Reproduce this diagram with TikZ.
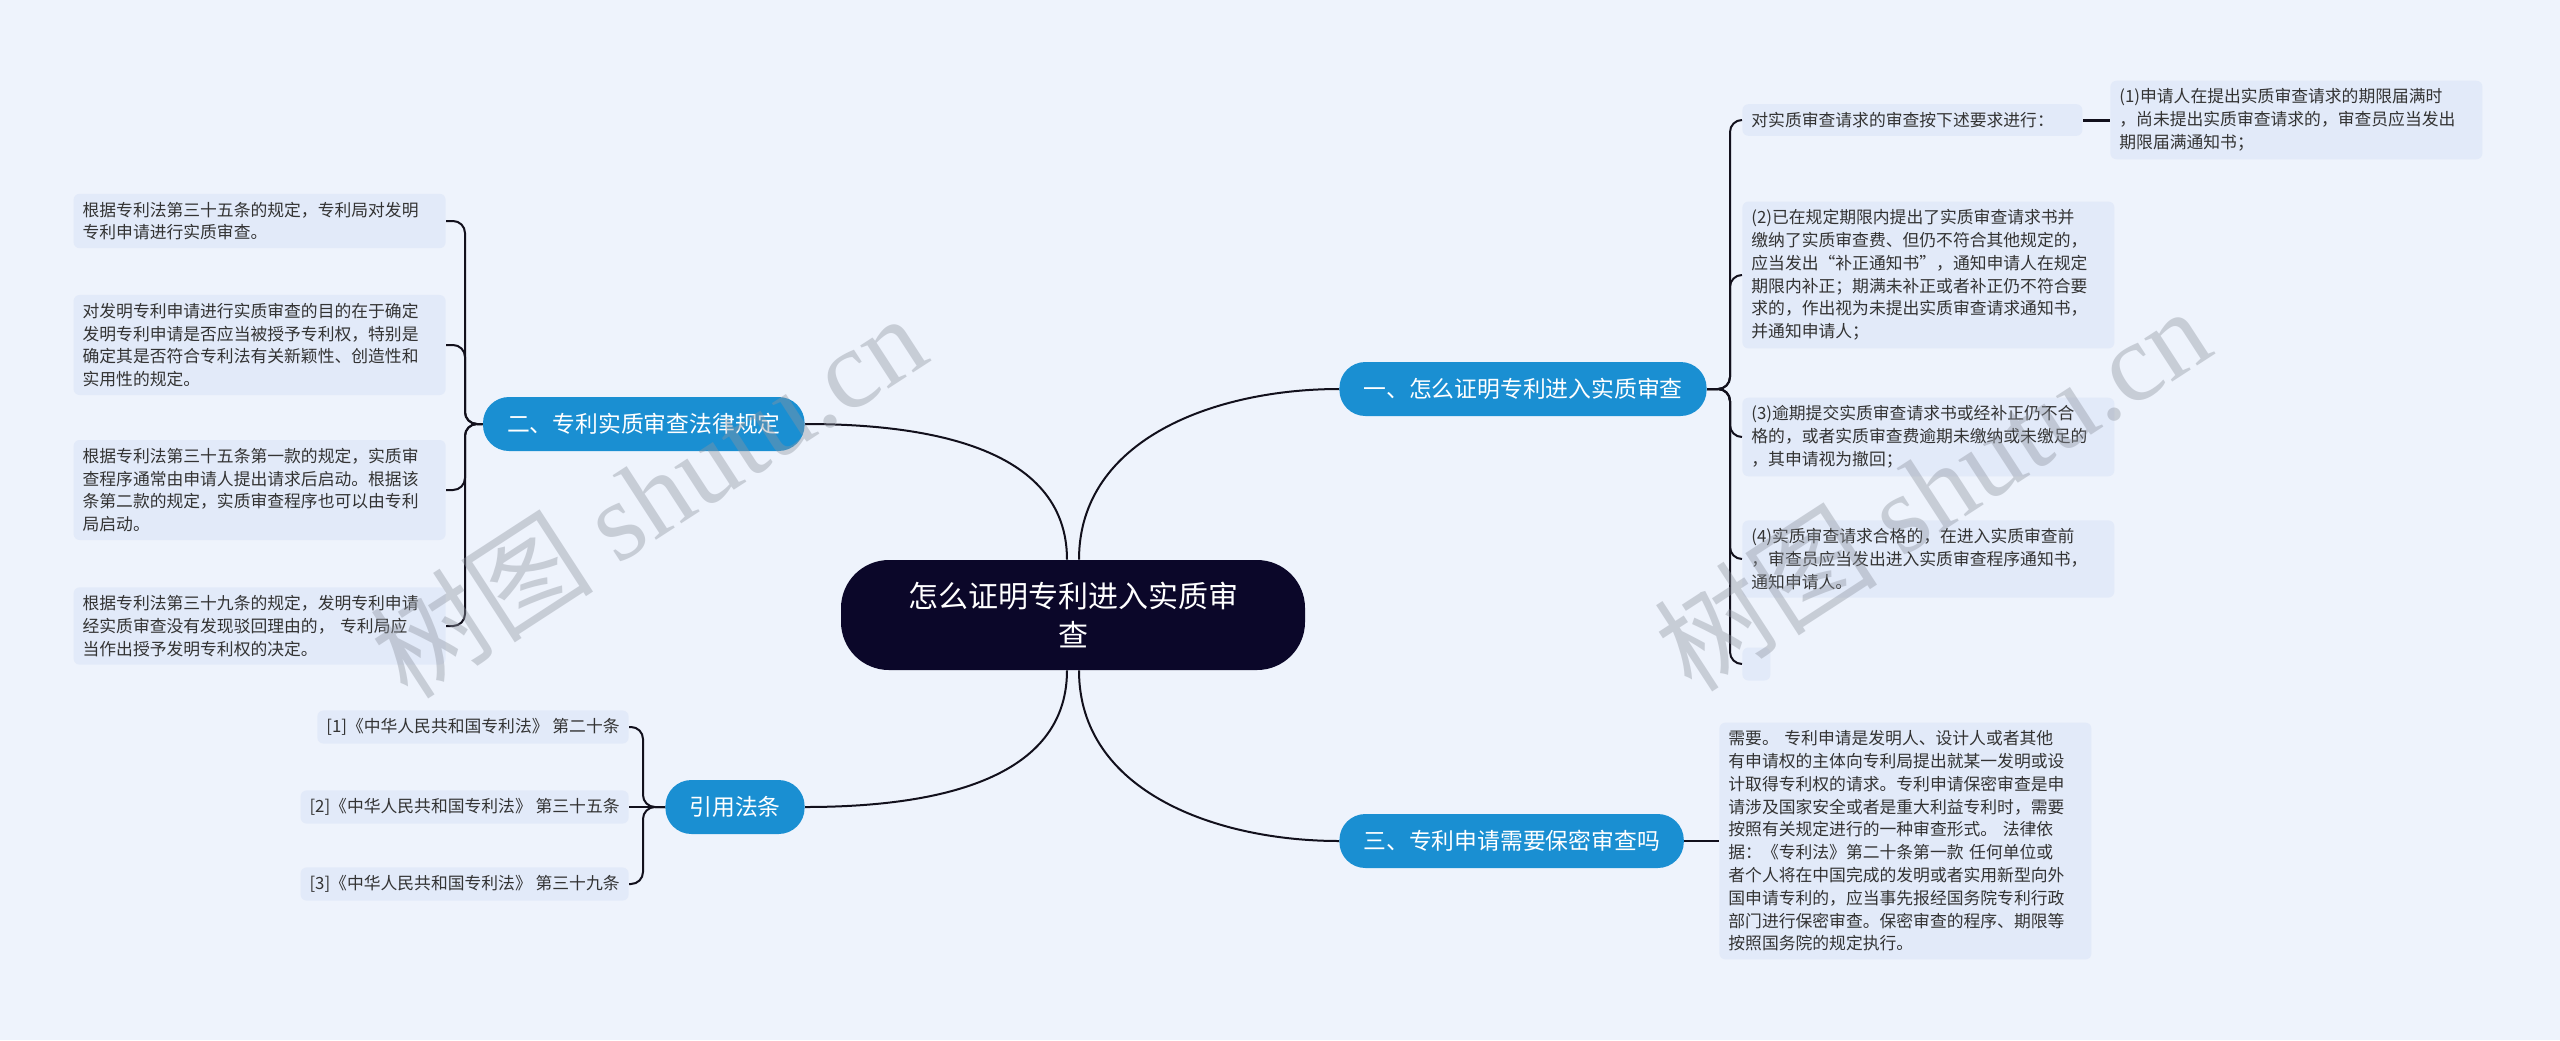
\documentclass[tikz,border=0pt]{standalone}
\usepackage{fontspec}
\setmainfont{Noto Sans CJK SC}
\newfontfamily\wmfont{Liberation Serif}
\usepackage{xcolor}
\usepackage{tikz}
\usetikzlibrary{positioning}
\definecolor{bgc}{HTML}{EEF3FC}
\definecolor{leafc}{HTML}{E2EAF9}
\definecolor{branchc}{HTML}{1A8FD2}
\definecolor{rootc}{HTML}{0B0729}
\definecolor{linec}{HTML}{12101C}
\definecolor{wmc}{HTML}{8E949F}

\begin{document}
\begin{tikzpicture}[
  x=0.5pt, y=0.5pt,
  leaf/.style={fill=leafc, rounded corners=3pt, align=left, inner xsep=4.5pt, inner ysep=4pt, text=black!80, font=\fontsize{8.4pt}{11.4pt}\selectfont},
  wide/.style={leaf, text width=177pt},
  branch/.style={fill=branchc, text=white, rounded corners=13pt, minimum height=27pt, inner xsep=12pt, font=\fontsize{11.4pt}{13pt}\selectfont},
  root/.style={fill=rootc, text=white, rounded corners=24pt, minimum width=232pt, minimum height=55pt, align=center, font=\fontsize{15pt}{19.5pt}\selectfont},
  link/.style={draw=linec, line width=1pt},
  fork/.style={link, rounded corners=6pt},
  stamp/.style={text=wmc, opacity=0.4, rotate=33, font=\fontsize{56pt}{56pt}\selectfont}
]
  \useasboundingbox (0,0) rectangle (2560,-1040);
  \fill[bgc] (0,0) rectangle (2560,-1040);

  \node[root] (root) at (1073,-615) {怎么证明专利进入实质审\\查};
  \node[branch, anchor=west] (prove) at (1339,-389) {一、怎么证明专利进入实质审查};
  \node[branch, anchor=east] (law) at (805,-424) {二、专利实质审查法律规定};
  \node[branch, anchor=west] (secret) at (1339,-841) {三、专利申请需要保密审查吗};
  \node[branch, anchor=east] (cite) at (805,-807) {引用法条};

  \node[leaf, anchor=west, text width=161pt] (req) at (1742,-120) {对实质审查请求的审查按下述要求进行：};
  \node[wide, anchor=west] (r1) at (2110,-120) {(1)申请人在提出实质审查请求的期限届满时\\，尚未提出实质审查请求的，审查员应当发出\\期限届满通知书；};
  \node[wide, anchor=west] (r2) at (1742,-275) {(2)已在规定期限内提出了实质审查请求书并\\缴纳了实质审查费、但仍不符合其他规定的，\\应当发出“补正通知书”，通知申请人在规定\\期限内补正；期满未补正或者补正仍不符合要\\求的，作出视为未提出实质审查请求通知书，\\并通知申请人；};
  \node[wide, anchor=west] (r3) at (1742,-437) {(3)逾期提交实质审查请求书或经补正仍不合\\格的，或者实质审查费逾期未缴纳或未缴足的\\，其申请视为撤回；};
  \node[wide, anchor=west] (r4) at (1742,-559) {(4)实质审查请求合格的，在进入实质审查前\\，审查员应当发出进入实质审查程序通知书，\\通知申请人。};
  \node[leaf, anchor=west, inner sep=0pt, minimum width=14pt, minimum height=16.5pt] (r5) at (1742,-664) {};

  \node[wide, anchor=west] (rule) at (1719,-841) {需要。 专利申请是发明人、设计人或者其他\\有申请权的主体向专利局提出就某一发明或设\\计取得专利权的请求。专利申请保密审查是申\\请涉及国家安全或者是重大利益专利时，需要\\按照有关规定进行的一种审查形式。 法律依\\据：《专利法》第二十条第一款 任何单位或\\者个人将在中国完成的发明或者实用新型向外\\国申请专利的，应当事先报经国务院专利行政\\部门进行保密审查。保密审查的程序、期限等\\按照国务院的规定执行。};

  \node[wide, anchor=east] (la) at (446,-221) {根据专利法第三十五条的规定，专利局对发明\\专利申请进行实质审查。};
  \node[wide, anchor=east] (lb) at (446,-345) {对发明专利申请进行实质审查的目的在于确定\\发明专利申请是否应当被授予专利权，特别是\\确定其是否符合专利法有关新颖性、创造性和\\实用性的规定。};
  \node[wide, anchor=east] (lc) at (446,-490) {根据专利法第三十五条第一款的规定，实质审\\查程序通常由申请人提出请求后启动。根据该\\条第二款的规定，实质审查程序也可以由专利\\局启动。};
  \node[wide, anchor=east] (ld) at (446,-626) {根据专利法第三十九条的规定，发明专利申请\\经实质审查没有发现驳回理由的， 专利局应\\当作出授予发明专利权的决定。};

  \node[leaf, anchor=east] (c1) at (629,-727) {[1]《中华人民共和国专利法》 第二十条};
  \node[leaf, anchor=east] (c2) at (629,-807) {[2]《中华人民共和国专利法》 第三十五条};
  \node[leaf, anchor=east] (c3) at (629,-884) {[3]《中华人民共和国专利法》 第三十九条};

  \coordinate (pj) at (1730,-389);
  \coordinate (lj) at (465,-424);
  \coordinate (cj) at (643,-807);

  \draw[link] ([xshift=3pt]root.north) to[out=90,in=180] (prove.west);
  \draw[link] ([xshift=-3pt]root.north) to[out=90,in=0] (law.east);
  \draw[link] ([xshift=3pt]root.south) to[out=-90,in=180] (secret.west);
  \draw[link] ([xshift=-3pt]root.south) to[out=-90,in=0] (cite.east);

  \draw[fork] (prove.east) -- (pj) |- (req.west);
  \draw[fork] (prove.east) -- (pj) |- (r2.west);
  \draw[fork] (prove.east) -- (pj) |- (r3.west);
  \draw[fork] (prove.east) -- (pj) |- (r4.west);
  \draw[fork] (prove.east) -- (pj) |- (r5.west);
  \draw[link, line width=1.5pt] (req.east) -- (r1.west);

  \draw[link] (secret.east) -- (rule.west);

  \draw[fork] (law.west) -- (lj) |- (la.east);
  \draw[fork] (law.west) -- (lj) |- (lb.east);
  \draw[fork] (law.west) -- (lj) |- (lc.east);
  \draw[fork] (law.west) -- (lj) |- (ld.east);

  \draw[fork] (cite.west) -- (cj) |- (c1.east);
  \draw[link] (cite.west) -- (c2.east);
  \draw[fork] (cite.west) -- (cj) |- (c3.east);

  \node[stamp] (wm1) at (648,-495) {树图 {\wmfont shutu.cn}};
  \node[stamp] (wm2) at (1932,-488) {树图 {\wmfont shutu.cn}};
\end{tikzpicture}
\end{document}
